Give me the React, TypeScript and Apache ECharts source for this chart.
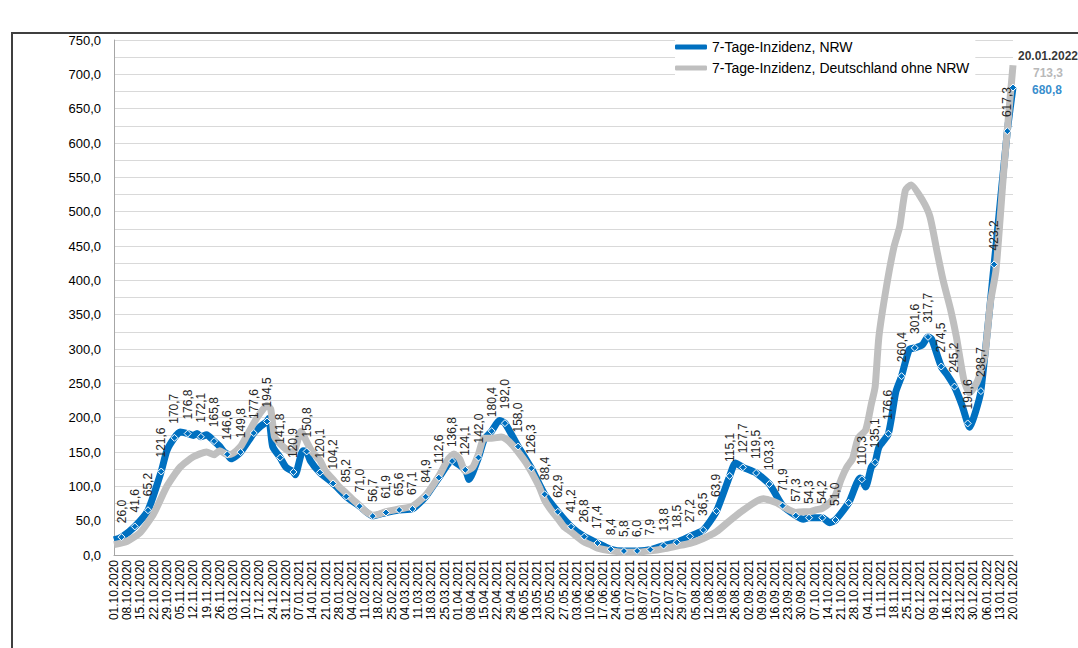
import React, { useEffect, useRef } from "react";
import * as echarts from "echarts";

// ---- data ----
const startDate = "01.10.2020";
const endDate = "20.01.2022";
const tickStepDays = 7;
const yLabelStep = 50;
const yGridStep = 25;

const nrwMarkerDates = [
  "05.10.2020", "12.10.2020", "19.10.2020", "26.10.2020", "02.11.2020", "09.11.2020", "16.11.2020", "23.11.2020",
  "30.11.2020", "07.12.2020", "14.12.2020", "21.12.2020", "28.12.2020",
  "04.01.2021", "11.01.2021", "18.01.2021", "25.01.2021", "01.02.2021", "08.02.2021", "15.02.2021", "22.02.2021",
  "01.03.2021", "08.03.2021", "15.03.2021", "22.03.2021", "29.03.2021", "05.04.2021", "12.04.2021", "19.04.2021",
  "26.04.2021", "03.05.2021", "10.05.2021", "17.05.2021", "24.05.2021", "31.05.2021", "07.06.2021", "14.06.2021",
  "21.06.2021", "28.06.2021", "05.07.2021", "12.07.2021", "19.07.2021", "26.07.2021", "02.08.2021", "09.08.2021",
  "16.08.2021", "23.08.2021", "30.08.2021", "06.09.2021", "13.09.2021", "20.09.2021", "27.09.2021", "04.10.2021",
  "11.10.2021", "18.10.2021", "25.10.2021", "01.11.2021", "08.11.2021", "15.11.2021", "22.11.2021", "29.11.2021",
  "06.12.2021", "13.12.2021", "20.12.2021", "27.12.2021",
  "03.01.2022", "10.01.2022", "17.01.2022", "20.01.2022",
];
const nrwMarkerValues = [
  26.0, 41.6, 65.2, 121.6, 170.7, 176.8, 172.1, 165.8,
  146.6, 149.8, 177.6, 194.5, 141.8,
  120.9, 150.8, 120.1, 104.2, 85.2, 71.0, 56.7, 61.9,
  65.6, 67.1, 84.9, 112.6, 136.8, 124.1, 142.0, 180.4,
  192.0, 158.0, 126.3, 88.4, 62.9, 41.2, 26.8, 17.4,
  8.4, 5.8, 6.0, 7.9, 13.8, 18.5, 27.2, 36.5,
  63.9, 115.1, 127.7, 119.5, 103.3, 71.9, 57.3, 54.3,
  54.2, 51.0, 76.0, 110.3, 135.1, 176.6, 260.4, 301.6,
  317.7, 274.5, 245.2, 191.6,
  238.7, 423.2, 617.3, 680.8,
];
const nrwUnlabelledDates = ["25.10.2021", "20.01.2022"];

const nrwExtraDates = [
  "01.10.2020", "29.10.2020", "05.11.2020", "12.11.2020", "14.11.2020", "19.11.2020", "26.11.2020", "28.11.2020",
  "02.12.2020", "17.12.2020", "22.12.2020", "24.12.2020", "31.12.2020", "05.01.2021", "09.01.2021", "13.01.2021",
  "07.04.2021", "15.04.2021", "23.04.2021", "26.08.2021", "01.10.2021", "15.10.2021", "31.10.2021", "03.11.2021",
  "06.11.2021", "10.11.2021", "19.11.2021", "26.11.2021", "03.12.2021", "08.12.2021", "16.12.2021", "24.12.2021",
  "28.12.2021", "31.12.2021",
];
const nrwExtraValues = [
  22, 152, 179, 174, 177, 175, 158, 151,
  140, 186, 199, 158, 128, 117, 152, 137,
  110, 168, 196, 134, 52, 47, 112, 99,
  128, 157, 238, 299, 306, 314, 263, 218,
  186, 207,
];

const deDates = [
  "01.10.2020", "08.10.2020", "15.10.2020", "22.10.2020", "29.10.2020", "05.11.2020", "12.11.2020", "19.11.2020",
  "23.11.2020", "26.11.2020", "30.11.2020", "03.12.2020", "07.12.2020", "10.12.2020", "14.12.2020", "17.12.2020",
  "21.12.2020", "23.12.2020", "25.12.2020", "28.12.2020", "01.01.2021", "04.01.2021", "08.01.2021", "11.01.2021",
  "14.01.2021", "18.01.2021", "21.01.2021", "25.01.2021", "28.01.2021", "01.02.2021", "04.02.2021", "08.02.2021",
  "11.02.2021", "15.02.2021", "18.02.2021", "22.02.2021", "01.03.2021", "08.03.2021", "15.03.2021", "22.03.2021",
  "27.03.2021", "30.03.2021", "02.04.2021", "05.04.2021", "09.04.2021", "12.04.2021", "15.04.2021", "19.04.2021",
  "24.04.2021", "27.04.2021", "30.04.2021", "03.05.2021", "07.05.2021", "10.05.2021", "14.05.2021", "17.05.2021",
  "20.05.2021", "24.05.2021", "27.05.2021", "31.05.2021", "03.06.2021", "07.06.2021", "11.06.2021", "14.06.2021",
  "21.06.2021", "28.06.2021", "05.07.2021", "12.07.2021", "19.07.2021", "26.07.2021", "02.08.2021", "09.08.2021",
  "16.08.2021", "23.08.2021", "30.08.2021", "06.09.2021", "10.09.2021", "13.09.2021", "17.09.2021", "20.09.2021",
  "24.09.2021", "27.09.2021", "01.10.2021", "04.10.2021", "08.10.2021", "11.10.2021", "15.10.2021", "18.10.2021",
  "21.10.2021", "24.10.2021", "27.10.2021", "30.10.2021", "03.11.2021", "06.11.2021", "08.11.2021", "10.11.2021",
  "14.11.2021", "18.11.2021", "21.11.2021", "24.11.2021", "27.11.2021", "03.12.2021", "07.12.2021", "11.12.2021",
  "14.12.2021", "18.12.2021", "21.12.2021", "25.12.2021", "28.12.2021", "01.01.2022", "05.01.2022", "08.01.2022",
  "11.01.2022", "15.01.2022", "20.01.2022",
];
const deValues = [
  15, 20, 33, 60, 100, 128, 143, 150,
  146, 152, 146, 148, 158, 172, 192, 205,
  218, 212, 172, 162, 152, 150, 180, 165,
  150, 138, 122, 110, 100, 90, 82, 72,
  64, 58, 59, 63, 67, 71, 87, 115,
  140, 147, 140, 122, 128, 147, 170, 170,
  172, 168, 160, 150, 135, 121, 100, 80,
  67, 53, 42, 34, 27, 19, 14, 10,
  6, 4, 4, 6, 9, 13, 17, 24,
  34, 50, 65, 78, 82, 80, 76, 71,
  65, 62, 63, 63, 66, 68, 76, 87,
  110, 128, 140, 170, 182, 220, 245, 318,
  391, 449, 478, 531, 539, 517, 493, 439,
  400, 357, 318, 255, 236, 252, 289, 367,
  415, 556, 713.3,
];

const nrwName = "7-Tage-Inzidenz, NRW";
const deName = "7-Tage-Inzidenz, Deutschland ohne NRW";

// ---- helpers ----
const FONT = "'Liberation Sans', Arial, sans-serif";
const BLUE = "#0070C0";
const GRAY = "#BFBFBF";
const toUTC = (s: string) => {
  const [dd, mm, yy] = s.split(".").map(Number);
  return Date.UTC(yy, mm - 1, dd);
};
const START = toUTC(startDate);
const dayOf = (s: string) => Math.round((toUTC(s) - START) / 86400000);
const pad = (n: number) => (n < 10 ? "0" + n : "" + n);
const dateOf = (d: number) => {
  const t = new Date(START + d * 86400000);
  return pad(t.getUTCDate()) + "." + pad(t.getUTCMonth() + 1) + "." + t.getUTCFullYear();
};
const fmt = (v: number) => v.toFixed(1).replace(".", ",");

function buildOption() {
  const nrwLine = [
    ...nrwMarkerDates.map((d, i) => [dayOf(d), nrwMarkerValues[i]]),
    ...nrwExtraDates.map((d, i) => [dayOf(d), nrwExtraValues[i]]),
  ].sort((a, b) => a[0] - b[0]);
  const deLine = deDates.map((d, i) => [dayOf(d), deValues[i]]);
  const markers = nrwMarkerDates.map((d, i) => ({
    value: [dayOf(d), nrwMarkerValues[i]],
    label: { show: !nrwUnlabelledDates.includes(d) },
  }));
  const lastDe = deValues[deValues.length - 1];
  const lastNrw = nrwMarkerValues[nrwMarkerValues.length - 1];
  const endDay = dayOf(endDate);

  return {
    animation: false,
    backgroundColor: "#fff",
    textStyle: { fontFamily: FONT },
    grid: { left: 114, right: 65, top: 40, bottom: 93 },
    legend: {
      data: [nrwName, deName],
      orient: "vertical",
      left: 675,
      top: 38,
      icon: "roundRect",
      itemWidth: 32,
      itemHeight: 5,
      itemGap: 7,
      padding: [2, 6, 2, 0],
      backgroundColor: "#fff",
      textStyle: { fontSize: 14, color: "#000", fontFamily: FONT },
    },
    xAxis: {
      type: "value",
      min: 0,
      max: endDay,
      interval: tickStepDays,
      axisLine: { show: true, lineStyle: { color: "#a6a6a6" } },
      axisTick: { show: false },
      splitLine: { show: false },
      axisLabel: {
        rotate: 90,
        fontSize: 12,
        color: "#000",
        margin: 5,
        fontFamily: FONT,
        formatter: (v: number) => dateOf(v),
        showMinLabel: true,
        showMaxLabel: true,
      },
    },
    yAxis: {
      type: "value",
      min: 0,
      max: 750,
      interval: yGridStep,
      axisLine: { show: true, lineStyle: { color: "#a6a6a6" } },
      axisTick: { show: false },
      axisLabel: {
        formatter: (v: number) => (Math.round(v) % yLabelStep === 0 ? fmt(v) : ""),
        fontSize: 13,
        color: "#000",
        margin: 13,
        fontFamily: FONT,
      },
      splitLine: { show: true, lineStyle: { color: "#d9d9d9" } },
    },
    series: [
      {
        name: nrwName,
        type: "line",
        data: nrwLine,
        showSymbol: false,
        symbol: "none",
        smooth: 0.2,
        lineStyle: { color: BLUE, width: 7 },
        itemStyle: { color: BLUE },
        z: 2,
        silent: true,
      },
      {
        name: deName,
        type: "line",
        data: deLine,
        showSymbol: false,
        symbol: "none",
        smooth: 0.2,
        lineStyle: { color: GRAY, width: 7 },
        itemStyle: { color: GRAY },
        z: 3,
        silent: true,
      },
      {
        name: "NRW-Werte",
        type: "scatter",
        data: markers,
        symbol: "diamond",
        symbolSize: 7,
        itemStyle: { color: BLUE, borderColor: "#fff", borderWidth: 1, opacity: 1 },
        label: {
          show: true,
          position: "top",
          distance: 10,
          rotate: 90,
          align: "left",
          verticalAlign: "middle",
          fontSize: 12,
          color: "#262626",
          fontFamily: FONT,
          formatter: (p: any) => fmt(p.value[1]),
        },
        z: 4,
        silent: true,
      },
      {
        name: "Endwerte",
        type: "scatter",
        symbolSize: 1,
        itemStyle: { color: "transparent" },
        z: 5,
        silent: true,
        data: [
          {
            value: [endDay, lastDe],
            label: {
              show: true,
              position: "inside",
              offset: [35, -1],
              formatter: "{d|" + endDate + "}\n{g|" + fmt(lastDe) + "}",
              rich: {
                d: { fontSize: 12, fontWeight: "bold", color: "#000", fontFamily: FONT, lineHeight: 17, align: "center" },
                g: { fontSize: 12, fontWeight: "bold", color: "#a6a6a6", fontFamily: FONT, lineHeight: 17, align: "center" },
              },
            },
          },
          {
            value: [endDay, lastNrw],
            label: {
              show: true,
              position: "inside",
              offset: [34, 2],
              formatter: fmt(lastNrw),
              fontSize: 12,
              fontWeight: "bold",
              color: BLUE,
              fontFamily: FONT,
            },
          },
        ],
      },
    ],
    graphic: [
      {
        type: "rect",
        shape: { x: 12, y: 33, width: 1100, height: 700 },
        style: { fill: "none", stroke: "#3f3f3f", lineWidth: 2 },
        silent: true,
        z: 100,
      },
    ],
  };
}

export default function App() {
  const ref = useRef<HTMLDivElement>(null);
  useEffect(() => {
    const chart = echarts.init(ref.current as HTMLDivElement, null, { renderer: "svg" });
    chart.setOption(buildOption() as any);
    return () => chart.dispose();
  }, []);
  return (
    <div
      ref={ref}
      style={{ position: "fixed", left: 0, top: 0, width: 1078, height: 648, background: "#fff" }}
    />
  );
}
